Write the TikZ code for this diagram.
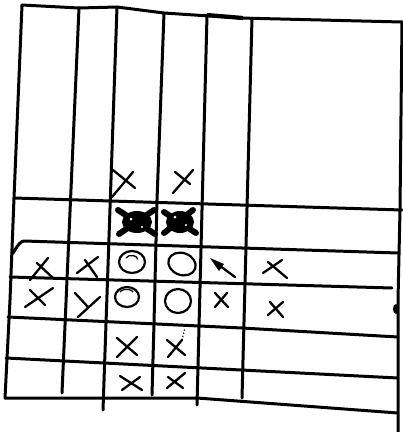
\documentclass[tikz,border=0pt]{standalone}
\usepackage{tikz}
\usetikzlibrary{arrows.meta}

\begin{document}
\begin{tikzpicture}[
    x=1pt, y=-1pt,
    trait/.style={line width=3pt, line cap=round, line join=round},
    croix/.style={line width=2.3pt, line cap=round},
    rond/.style={line width=2.2pt},
    tache/.style={line width=6pt, line cap=round}
  ]
  \useasboundingbox (0,0) rectangle (403,432);

  % --- Cadre ---
  \draw[trait] (22,5) -- (79,8) -- (117,7) -- (164,13) -- (240,18) -- (402,22);
  \draw[line width=4.2pt] (207,15) -- (243,18);
  \draw[trait] (22,5) -- (14,198) -- (10,300) -- (5,398);
  \draw[trait] (402,22) -- (400,210) -- (398,300) -- (398,432);
  \fill (396,309) ellipse (3 and 5);

  % --- Colonnes ---
  \draw[trait] (79,8)   -- (62,393);
  \draw[trait] (117,7)  -- (103,410);
  \draw[trait] (164,13) -- (157,200) -- (154,323) -- (152,395);
  \draw[trait] (207,15) -- (197,405);
  \draw[trait] (252,18) -- (242,398);

  % --- Lignes ---
  \draw[trait] (14,198) -- (402,210);
  \draw[trait] (12,252) to[out=-90,in=180] (24,241) -- (398,253);
  \draw[trait] (10,277) -- (392,288);
  \draw[trait] (8,317) -- (242,328) -- (398,337);
  \draw[trait] (6,358) -- (398,378);
  \draw[trait] (5,398) -- (197,398) -- (398,413);

  % --- Rang 1 ---
  \draw[croix] (113,170) -- (135,188) (112,197) -- (133,172);
  \draw[croix] (175,172) -- (190,184) (173,193) -- (193,170);

  % --- Rang 2 (ratures) ---
  \fill (137,222) ellipse (15 and 11);
  \draw[tache] (118,210) -- (155,234) (119,234) -- (154,210);
  \fill (180,222) ellipse (14 and 11);
  \draw[tache] (164,212) -- (196,233) (164,233) -- (193,210);
  \fill[white] (131,219) circle (1.5) (142,227) circle (1.2)
               (175,217) circle (1.5) (186,225) circle (1.2);

  % --- Rang 3 ---
  \draw[croix] (37,263) -- (53,278) (30,280) -- (48,258);
  \draw[croix] (85,260) -- (97,277) (77,273) -- (98,257);
  \draw[rond] (132,262) ellipse (13 and 11);
  \draw[line width=1.3pt] (126,258) arc (200:360:6 and 4);
  \draw[rond, rotate around={-20:(182,264)}] (182,264) ellipse (14 and 11);
  \draw[croix] (216,263) -- (235,277);
  \fill (210,258) -- (224,264) -- (219,271) -- cycle;
  \draw[croix] (268,262) -- (287,278) (263,273) -- (282,260);

  % --- Rang 4 ---
  \draw[croix] (30,290) -- (45,305) (25,307) -- (53,288);
  \draw[croix] (75,293) -- (88,307) (78,317) -- (100,297);
  \draw[rond] (127,297) ellipse (12 and 10);
  \draw[line width=1.3pt] (120,292) arc (200:340:7 and 4);
  \draw[rond] (178,301) ellipse (13 and 12);
  \draw[croix] (215,293) -- (228,307) (215,307) -- (227,293);
  \draw[croix] (270,302) -- (283,317) (268,315) -- (283,302);

  % --- Rang 5 ---
  \draw[croix] (117,338) -- (137,355) (117,357) -- (137,337);
  \draw[croix] (167,340) -- (185,355) (168,357) -- (182,340);
  \draw[line width=1.2pt, dotted] (182,340) -- (185,328);

  % --- Rang 6 ---
  \draw[croix] (120,376) -- (142,390) (122,390) -- (140,377);
  \draw[croix] (168,377) -- (183,388) (167,388) -- (185,373);
\end{tikzpicture}
\end{document}
